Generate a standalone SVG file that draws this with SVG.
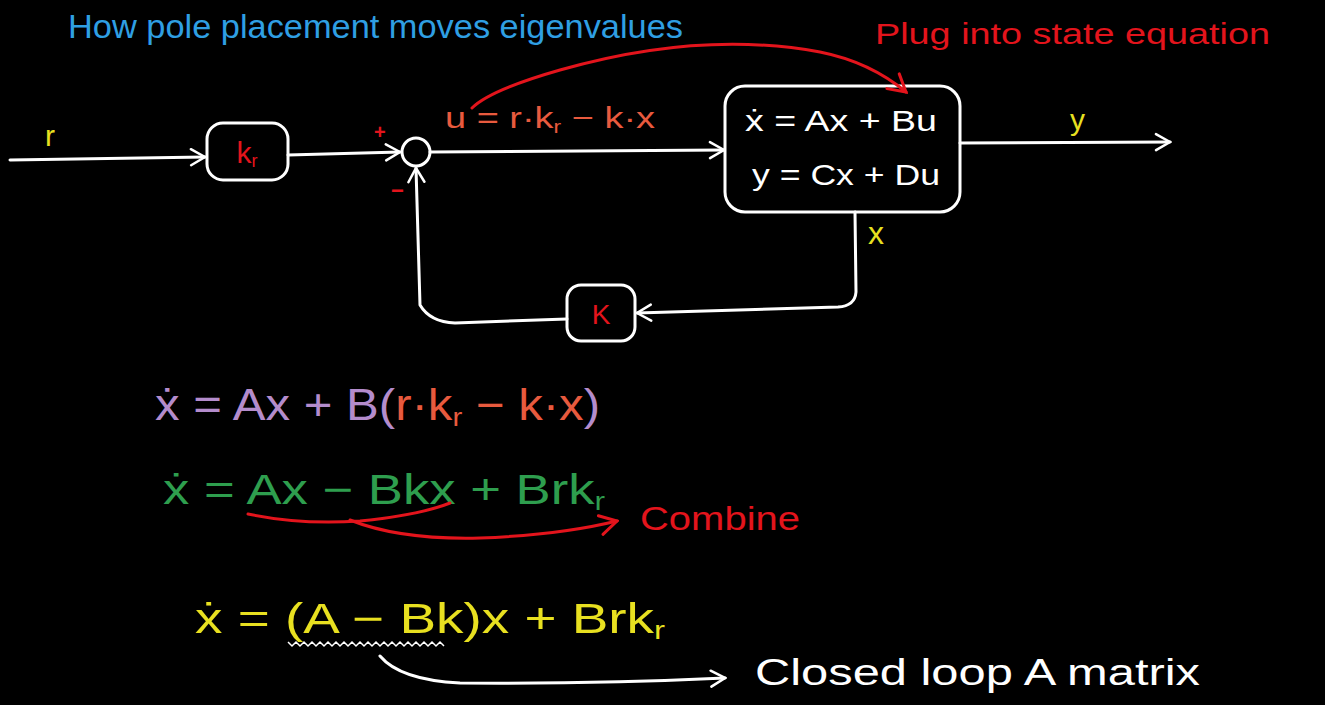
<svg xmlns="http://www.w3.org/2000/svg" width="1325" height="705" viewBox="0 0 1325 705">
<defs>
<style>
text{font-family:"Liberation Sans","DejaVu Sans",sans-serif;}
.w{stroke:#fff;stroke-width:3;fill:none;stroke-linecap:round;stroke-linejoin:round}
.r{stroke:#e3141c;stroke-width:3;fill:none;stroke-linecap:round;stroke-linejoin:round}
.box{stroke:#fff;stroke-width:3;fill:#000}
.sub{font-size:0.6em}
</style>
<marker id="aw" viewBox="0 0 20 20" refX="18" refY="10" markerWidth="20" markerHeight="20" markerUnits="userSpaceOnUse" orient="auto">
<path d="M4 2 L18 10 L4 18" fill="none" stroke="#fff" stroke-width="2.5" stroke-linecap="round"/>
</marker>
<marker id="ar" viewBox="0 0 20 20" refX="18" refY="10" markerWidth="24" markerHeight="24" markerUnits="userSpaceOnUse" orient="auto">
<path d="M4 2 L18 10 L4 18" fill="none" stroke="#e3141c" stroke-width="2.5" stroke-linecap="round"/>
</marker>
</defs>
<rect width="1325" height="705" fill="#000"/>

<text x="68" y="38" font-size="33" fill="#2f9fe3" textLength="615" lengthAdjust="spacingAndGlyphs">How pole placement moves eigenvalues</text>
<text x="875" y="44" font-size="30" fill="#e3141c" textLength="395" lengthAdjust="spacingAndGlyphs">Plug into state equation</text>

<g id="kr">
<rect class="box" x="207" y="123" width="81" height="57" rx="16"/>
<text x="247" y="163" font-size="30" fill="#e3141c" text-anchor="middle">k<tspan class="sub" dy="4">r</tspan></text>
</g>

<g id="sum">
<circle class="w" cx="416" cy="152" r="14" fill="#000"/>
</g>

<g id="plant">
<rect class="box" x="725" y="86" width="235" height="126" rx="20"/>
<text x="745" y="131" font-size="30" fill="#fff" textLength="192" lengthAdjust="spacingAndGlyphs">ẋ = Ax + Bu</text>
<text x="752" y="185" font-size="30" fill="#fff" textLength="188" lengthAdjust="spacingAndGlyphs">y = Cx + Du</text>
</g>

<g id="K">
<rect class="box" x="567" y="285" width="68" height="56" rx="14"/>
<text x="601" y="324" font-size="28" fill="#e3141c" text-anchor="middle">K</text>
</g>

<g id="connectors">
<path class="w" d="M10 160 L205 157" marker-end="url(#aw)"/>
<path class="w" d="M288 155 L400 152" marker-end="url(#aw)"/>
<path class="w" d="M430 152 L724 150" marker-end="url(#aw)"/>
<path class="w" d="M960 143 L1170 142" marker-end="url(#aw)"/>
<path class="w" d="M855 212 L856 292 Q855 306 838 307 L637 313" marker-end="url(#aw)"/>
<path class="w" d="M567 319 L455 323 Q430 322 420 305 L416 168" marker-end="url(#aw)"/>
<path class="r" d="M472 108 Q490 90 560 70 Q700 30 820 52 Q870 62 906 92" marker-end="url(#ar)"/>
</g>

<g id="labels">
<text x="45" y="146" font-size="30" fill="#e8e020">r</text>
<text x="374" y="139" font-size="20" fill="#e3141c" font-weight="bold">+</text>
<text x="391" y="198" font-size="22" fill="#e3141c" font-weight="bold">−</text>
<text x="445" y="128" font-size="30" fill="#e85a3e" textLength="210" lengthAdjust="spacingAndGlyphs">u = r·k<tspan class="sub" dy="5">r</tspan><tspan dy="-5"> − k·x</tspan></text>
<text x="1070" y="130" font-size="30" fill="#e8e020">y</text>
<text x="868" y="244" font-size="32" fill="#e8e020">x</text>
</g>

<g id="eq1">
<text x="155" y="420" font-size="44" fill="#b48ccc" textLength="445" lengthAdjust="spacingAndGlyphs">ẋ = Ax + B(<tspan fill="#e85a3e">r·k<tspan class="sub" dy="6">r</tspan><tspan dy="-6"> − k·x</tspan></tspan>)</text>
</g>

<g id="eq2">
<text x="163" y="504" font-size="42" fill="#2e9e4e" textLength="442" lengthAdjust="spacingAndGlyphs">ẋ = Ax − Bkx + Brk<tspan class="sub" dy="6">r</tspan></text>
<path class="r" d="M248 514 Q300 525 360 521 Q420 515 450 503"/>
<path class="r" d="M350 520 Q400 540 480 538 Q560 535 617 521" marker-end="url(#ar)"/>
<text x="640" y="530" font-size="34" fill="#e3141c" textLength="160" lengthAdjust="spacingAndGlyphs">Combine</text>
</g>

<g id="eq3">
<text x="195" y="633" font-size="42" fill="#e8e020" textLength="470" lengthAdjust="spacingAndGlyphs">ẋ = (A − Bk)x  + Brk<tspan class="sub" dy="6">r</tspan></text>
<path d="M288 642 l4 4 l4 -4 l4 4 l4 -4 l4 4 l4 -4 l4 4 l4 -4 l4 4 l4 -4 l4 4 l4 -4 l4 4 l4 -4 l4 4 l4 -4 l4 4 l4 -4 l4 4 l4 -4 l4 4 l4 -4 l4 4 l4 -4 l4 4 l4 -4 l4 4 l4 -4 l4 4 l4 -4 l4 4 l4 -4 l4 4 l4 -4 l4 4 l4 -4 l4 4 l4 -4 l4 4" stroke="#fff" stroke-width="1.5" fill="none"/>
<path class="w" d="M380 656 Q400 680 460 683 Q600 684 725 678" marker-end="url(#aw)"/>
<text x="755" y="685" font-size="36" fill="#fff" textLength="445" lengthAdjust="spacingAndGlyphs">Closed loop A matrix</text>
</g>
</svg>
